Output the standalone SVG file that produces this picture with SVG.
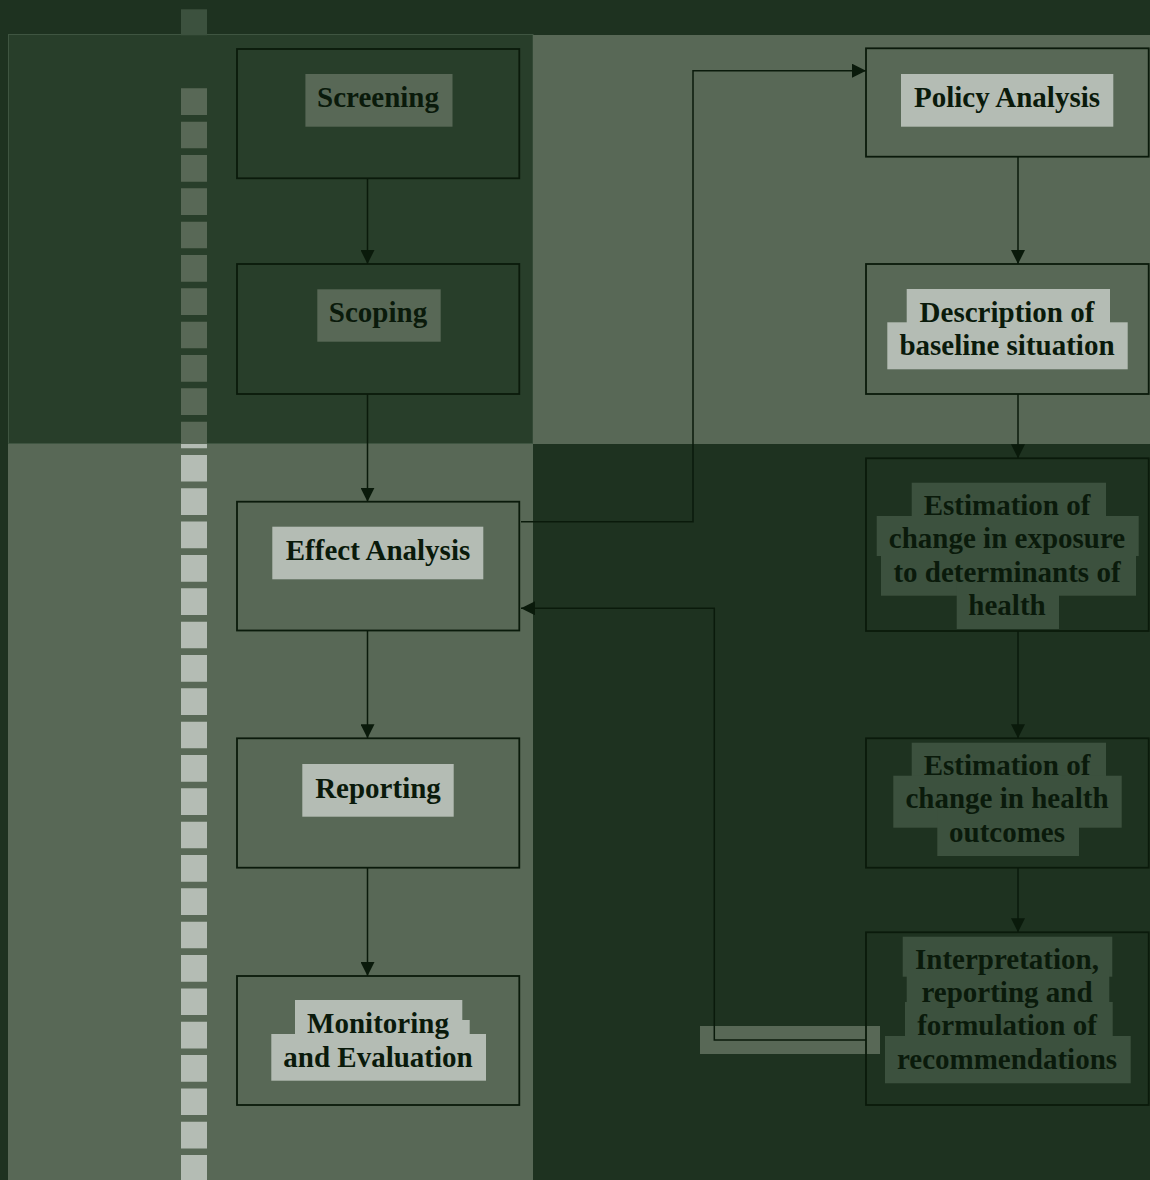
<svg xmlns="http://www.w3.org/2000/svg" width="1150" height="1180" viewBox="0 0 1150 1180">
<style>
.box{fill:none;stroke:#0a1a0b;stroke-width:1.8}
.lbl{font-family:"Liberation Serif","Times New Roman",serif;font-weight:bold;font-size:29px;fill:#0a1a0b;text-anchor:middle}
.hm{fill:#586856}
.hl{fill:#b4bcb4}
.hd{fill:#3c513e}
.conn{fill:none;stroke:#0a1a0b;stroke-width:1.5}
</style>
<defs>
<marker id="arr" markerUnits="userSpaceOnUse" markerWidth="14" markerHeight="14" refX="14" refY="7" orient="auto">
<path d="M0,0 L14,7 L0,14 Z" fill="#0a1a0b"/>
</marker>
</defs>
<g id="background">
<rect x="0" y="0" width="1150" height="1180" fill="#1e3220"/>
<rect x="8.5" y="34.5" width="524.5" height="409" fill="#283e2a" stroke="#3f5541" stroke-width="1"/>
<rect x="533" y="35" width="617" height="409" fill="#586856"/>
<rect x="8" y="444" width="525" height="736" fill="#586856"/>
<rect x="181" y="9.3" width="26" height="26" fill="#3c513e"/>
<line x1="194" y1="88.3" x2="194" y2="444" stroke="#586856" stroke-width="26" stroke-dasharray="26.67 6.67"/>
<line x1="194" y1="444" x2="194" y2="1180" stroke="#b4bcb4" stroke-width="26" stroke-dasharray="26.67 6.67" stroke-dashoffset="22.4"/>
<rect x="700" y="1026" width="180" height="28" fill="#586856"/>
</g>
<g id="connectors">
<line class="conn" x1="367.5" y1="178.3" x2="367.5" y2="264" marker-end="url(#arr)"/>
<line class="conn" x1="367.5" y1="394" x2="367.5" y2="501.7" marker-end="url(#arr)"/>
<line class="conn" x1="367.5" y1="630.5" x2="367.5" y2="738.3" marker-end="url(#arr)"/>
<line class="conn" x1="367.5" y1="867.7" x2="367.5" y2="976" marker-end="url(#arr)"/>
<line class="conn" x1="1018" y1="156.7" x2="1018" y2="264" marker-end="url(#arr)"/>
<line class="conn" x1="1018" y1="394" x2="1018" y2="458.3" marker-end="url(#arr)"/>
<line class="conn" x1="1018" y1="631" x2="1018" y2="738.3" marker-end="url(#arr)"/>
<line class="conn" x1="1018" y1="867.7" x2="1018" y2="932.3" marker-end="url(#arr)"/>
<polyline class="conn" points="521,521.7 693,521.7 693,70.7 866,70.7" marker-end="url(#arr)"/>
<polyline class="conn" points="866,1040 714.3,1040 714.3,608.3 521,608.3" marker-end="url(#arr)"/>
</g>
<g id="node-screening">
<rect class="box" x="237" y="49" width="282.3" height="129.3"/>
<rect class="hm" x="305.4" y="74" width="147.1" height="52.7"/>
<text class="lbl" x="378" y="107.3">Screening</text>
</g>
<g id="node-scoping">
<rect class="box" x="237" y="264" width="282.3" height="130"/>
<rect class="hm" x="317.3" y="289.3" width="123.4" height="52.4"/>
<text class="lbl" x="378" y="321.7">Scoping</text>
</g>
<g id="node-effect-analysis">
<rect class="box" x="237" y="501.7" width="282.3" height="128.8"/>
<rect class="hl" x="272.3" y="526.7" width="211" height="52.6"/>
<text class="lbl" x="378" y="560">Effect Analysis</text>
</g>
<g id="node-reporting">
<rect class="box" x="237" y="738.3" width="282.3" height="129.4"/>
<rect class="hl" x="302.3" y="764" width="151.4" height="52.7"/>
<text class="lbl" x="378" y="798.3">Reporting</text>
</g>
<g id="node-monitoring">
<rect class="box" x="237" y="976" width="282.3" height="129"/>
<rect class="hl" x="295" y="1000" width="167.3" height="40"/>
<rect class="hl" x="462" y="1020" width="7.7" height="20"/>
<rect class="hl" x="271.3" y="1034" width="214.7" height="46.7"/>
<text class="lbl" x="378" y="1032.7">Monitoring</text>
<text class="lbl" x="378" y="1066.7">and Evaluation</text>
</g>
<g id="node-policy-analysis">
<rect class="box" x="866" y="48.3" width="282.7" height="108.4"/>
<rect class="hl" x="901" y="74" width="212.3" height="52.7"/>
<text class="lbl" x="1007" y="106.7">Policy Analysis</text>
</g>
<g id="node-description">
<rect class="box" x="866" y="264" width="282.7" height="130"/>
<rect class="hl" x="906.7" y="289" width="203.3" height="40"/>
<rect class="hl" x="887.3" y="322.3" width="240.4" height="47"/>
<text class="lbl" x="1007" y="321.7">Description of</text>
<text class="lbl" x="1007" y="355">baseline situation</text>
</g>
<g id="node-estimation-exposure">
<rect class="box" x="866" y="458.3" width="282.7" height="172.7"/>
<rect class="hd" x="911.7" y="482.7" width="194.3" height="40"/>
<rect class="hd" x="876.7" y="516" width="262" height="40"/>
<rect class="hd" x="881" y="549" width="255" height="46.7"/>
<rect class="hd" x="956.7" y="582.7" width="102.3" height="46.3"/>
<text class="lbl" x="1007" y="515">Estimation of</text>
<text class="lbl" x="1007" y="548.3">change in exposure</text>
<text class="lbl" x="1007" y="581.7">to determinants of</text>
<text class="lbl" x="1007" y="615">health</text>
</g>
<g id="node-estimation-health">
<rect class="box" x="866" y="738.3" width="282.7" height="129.4"/>
<rect class="hd" x="911.7" y="742.7" width="194.3" height="40"/>
<rect class="hd" x="893.3" y="775.7" width="228.4" height="52"/>
<rect class="hd" x="937.3" y="809" width="141.7" height="47"/>
<text class="lbl" x="1007" y="775">Estimation of</text>
<text class="lbl" x="1007" y="808.3">change in health</text>
<text class="lbl" x="1007" y="841.7">outcomes</text>
</g>
<g id="node-interpretation">
<rect class="box" x="866" y="932.3" width="282.7" height="172.7"/>
<rect class="hd" x="902.7" y="936.7" width="209.6" height="40"/>
<rect class="hd" x="906.7" y="969" width="202.6" height="40"/>
<rect class="hd" x="905" y="1002" width="207.7" height="40"/>
<rect class="hd" x="885" y="1036" width="245.7" height="47.3"/>
<text class="lbl" x="1007" y="969.3">Interpretation,</text>
<text class="lbl" x="1007" y="1001.7">reporting and</text>
<text class="lbl" x="1007" y="1035">formulation of</text>
<text class="lbl" x="1007" y="1069.3">recommendations</text>
</g>
</svg>
